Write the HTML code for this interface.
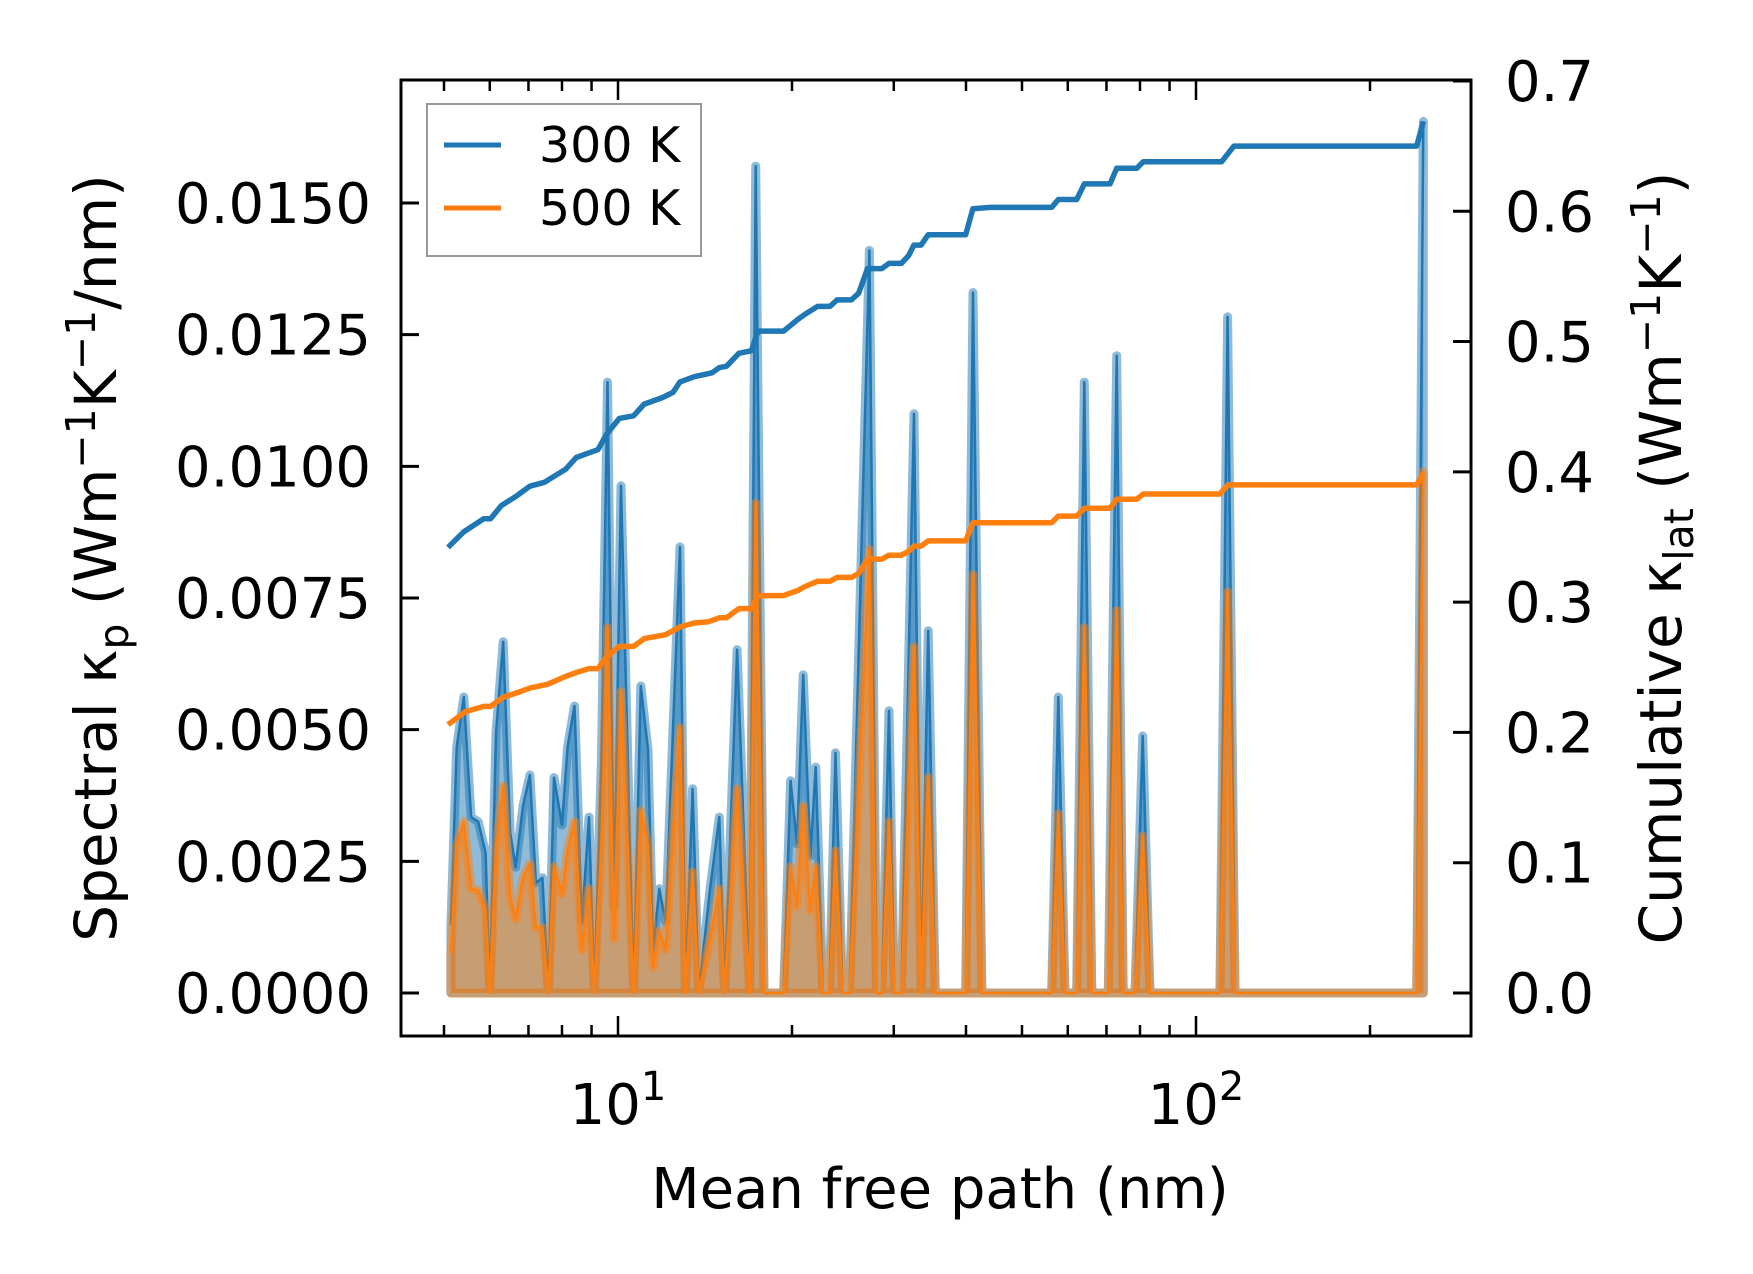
<!DOCTYPE html>
<html><head><meta charset="utf-8">
<style>
html,body{margin:0;padding:0;background:#fff;}
svg{display:block;font-family:"DejaVu Sans","Liberation Sans",sans-serif;}
</style></head>
<body>
<svg id="chart" width="1753" height="1274" viewBox="0 0 1753 1274" xmlns="http://www.w3.org/2000/svg">
<rect x="0" y="0" width="1753" height="1274" fill="#fff"/>
<g id="plot"></g>
<g id="axes"></g>
<g id="legend">
  <rect x="427" y="104" width="274" height="152" fill="#fff" stroke="#999" stroke-width="2"/>
  <g>
    <line x1="444" y1="145" x2="501" y2="145" stroke="#1f77b4" stroke-width="5"/>
    <text x="539" y="162" font-size="49">300 K</text>
  </g>
  <g>
    <line x1="444" y1="208" x2="501" y2="208" stroke="#ff7f0e" stroke-width="5"/>
    <text x="539" y="225" font-size="49">500 K</text>
  </g>
</g>
<text x="940" y="1208" font-size="56" text-anchor="middle">Mean free path (nm)</text>
<text transform="translate(116,558) rotate(-90)" font-size="58" text-anchor="middle">Spectral κ<tspan font-size="41" dy="12">p</tspan><tspan dy="-12"> (Wm</tspan><tspan font-size="41" dy="-21">−1</tspan><tspan dy="21">K</tspan><tspan font-size="41" dy="-21">−1</tspan><tspan dy="21">/nm)</tspan></text>
<text transform="translate(1681,558) rotate(-90)" font-size="58" text-anchor="middle">Cumulative κ<tspan font-size="41" dy="12">lat</tspan><tspan dy="-12"> (Wm</tspan><tspan font-size="41" dy="-21">−1</tspan><tspan dy="21">K</tspan><tspan font-size="41" dy="-21">−1</tspan><tspan dy="21">)</tspan></text>
</svg>
<script>
// ---- data ----
const mfp = [5.14,5.26,5.41,5.57,5.73,5.90,6.00,6.15,6.33,6.51,6.65,6.85,7.04,7.21,7.40,7.58,7.75,8.00,8.18,8.41,8.66,8.91,9.10,9.36,9.59,9.84,10.12,10.64,10.95,11.27,11.50,11.79,12.09,12.80,13.08,13.46,13.79,14.43,14.97,15.29,16.07,16.90,17.31,17.89,19.34,19.89,20.40,20.91,21.52,21.98,22.62,23.21,23.78,24.46,25.16,27.22,28.00,28.61,29.44,30.06,30.93,32.52,33.45,34.41,35.40,39.96,41.14,42.61,56.27,57.78,59.34,62.17,64.09,66.02,70.51,72.90,74.84,78.42,80.87,83.25,110.0,113.4,116.8,240.9,247.3];
const spec300 = [0.00129,0.00467,0.00562,0.00334,0.00325,0.00266,0,0.00494,0.00667,0.00304,0.00239,0.00355,0.00414,0.00209,0.00219,0,0.00409,0.00319,0.00467,0.00545,0.00135,0.00334,0,0.0044,0.0116,0.00165,0.00963,0,0.00583,0.00462,0.00082,0.00198,0.00135,0.00847,0,0.00388,0,0.00198,0.00334,0,0.00652,0,0.0157,0,0,0.00403,0.00283,0.00604,0.0026,0.00429,0,0,0.00456,0,0,0.0141,0,0,0.00536,0,0,0.0110,0,0.00688,0,0,0.0133,0,0,0.00562,0,0,0.0116,0,0,0.0121,0,0,0.00488,0,0,0.01284,0,0,0.01655];
const spec500 = [0.00076,0.0028,0.00325,0.00198,0.00195,0.00156,0,0.0027,0.00393,0.00182,0.0014,0.00219,0.00245,0.00124,0.00124,0,0.0024,0.00188,0.0027,0.00325,0.00082,0.00198,0,0.0028,0.00694,0.00103,0.00572,0,0.00346,0.0028,0.00049,0.00118,0.00082,0.00504,0,0.0023,0,0.00103,0.00198,0,0.00388,0,0.0093,0,0,0.0024,0.00165,0.00355,0.00156,0.0024,0,0,0.0027,0,0,0.00842,0,0,0.00325,0,0,0.00657,0,0.00409,0,0,0.00794,0,0,0.0034,0,0,0.00694,0,0,0.00726,0,0,0.00298,0,0,0.00762,0,0,0.0099];
const cumX300 = [5.08,5.41,5.86,6.02,6.28,6.65,7.04,7.46,8.12,8.47,8.84,9.23,9.56,10.05,10.64,11.10,11.93,12.45,12.80,13.55,14.55,14.97,15.40,16.19,17.02,17.46,19.34,20.48,21.07,22.14,23.27,23.94,25.34,26.08,27.02,28.61,29.42,30.93,31.83,32.51,33.45,34.41,39.96,41.11,44.02,56.27,57.78,62.17,64.09,70.98,72.90,78.96,81.06,110.8,116.3,240.9,247.3];
const cum300 = [0.342,0.354,0.364,0.364,0.374,0.381,0.389,0.392,0.402,0.411,0.414,0.417,0.429,0.441,0.443,0.452,0.457,0.461,0.469,0.473,0.476,0.480,0.481,0.491,0.493,0.508,0.508,0.517,0.521,0.527,0.527,0.532,0.532,0.537,0.556,0.556,0.560,0.560,0.566,0.574,0.574,0.582,0.582,0.602,0.603,0.603,0.609,0.609,0.621,0.621,0.633,0.633,0.638,0.638,0.650,0.650,0.669];
const cumX500 = [5.08,5.45,5.86,6.02,6.33,6.65,7.04,7.56,8.12,8.47,8.91,9.23,9.56,10.05,10.64,11.10,12.09,12.80,13.55,14.35,14.97,15.40,16.19,17.02,17.46,19.34,20.48,21.07,22.14,23.27,23.94,25.34,26.08,27.02,28.61,29.42,30.93,31.83,32.51,33.45,34.41,39.96,41.11,44.02,56.27,57.78,62.17,64.09,70.98,72.90,78.96,81.06,110.0,113.6,240.9,247.3];
const cum500 = [0.206,0.216,0.220,0.220,0.227,0.230,0.234,0.237,0.243,0.246,0.249,0.249,0.258,0.266,0.266,0.272,0.275,0.281,0.284,0.285,0.288,0.288,0.295,0.295,0.305,0.305,0.309,0.312,0.316,0.316,0.319,0.319,0.322,0.333,0.333,0.336,0.336,0.339,0.343,0.343,0.347,0.347,0.361,0.361,0.361,0.366,0.366,0.372,0.372,0.379,0.379,0.383,0.383,0.390,0.390,0.399];
const leftTicks = [0,0.0025,0.005,0.0075,0.01,0.0125,0.015];
const leftTickLabels = ["0.0000","0.0025","0.0050","0.0075","0.0100","0.0125","0.0150"];
const rightTicks = [0,0.1,0.2,0.3,0.4,0.5,0.6,0.7];
const rightTickLabels = ["0.0","0.1","0.2","0.3","0.4","0.5","0.6","0.7"];
const xMajor = [10,100];
const xMajorExp = ["1","2"];

// ---- axes geometry ----
const L=401,R=1471,T=80,B=1036;
function sx(v){return 618+578*(Math.log10(v)-1);}
function syL(v){return 993-v*52667;}
function syR(v){return 993-v*1302.9;}
const NS="http://www.w3.org/2000/svg";
function mk(tag,attrs,parent){const e=document.createElementNS(NS,tag);for(const k in attrs)e.setAttribute(k,attrs[k]);parent.appendChild(e);return e;}
const plot=document.getElementById('plot');
const axes=document.getElementById('axes');

function specSeries(vals,color,name){
  const pts=mfp.map((x,i)=>sx(x).toFixed(1)+','+syL(vals[i]).toFixed(1));
  const area='M'+sx(mfp[0]).toFixed(1)+','+syL(0)+' L'+pts.join(' L')+' L'+sx(mfp[mfp.length-1]).toFixed(1)+','+syL(0)+' Z';
  const f=mk('path',{d:area,fill:color,'fill-opacity':0.5,stroke:'none'},plot);
  
  
  const thick=mk('path',{d:area,fill:'none',stroke:color,'stroke-opacity':0.5,'stroke-width':9,'stroke-linejoin':'round','stroke-linecap':'round'},plot);
  
  
  const line=mk('polyline',{points:pts.join(' '),fill:'none',stroke:color,'stroke-width':2.5,'stroke-linejoin':'round'},plot);
  
  
}
specSeries(spec300,'#1f77b4','spectral-300k');
specSeries(spec500,'#ff7f0e','spectral-500k');

function cumSeries(xs,vals,color,name){
  const pts=xs.map((x,i)=>sx(x).toFixed(1)+','+syR(vals[i]).toFixed(1)).join(' ');
  const l=mk('polyline',{points:pts,fill:'none',stroke:color,'stroke-width':5.5,'stroke-linejoin':'round'},plot);
  
  
}
cumSeries(cumX300,cum300,'#1f77b4','cumulative-300k-line');
cumSeries(cumX500,cum500,'#ff7f0e','cumulative-500k-line');

// frame
const fr=mk('rect',{x:L,y:T,width:R-L,height:B-T,fill:'none',stroke:'#000','stroke-width':3},axes);



// left ticks
leftTicks.forEach((v,i)=>{
  const y=syL(v);
  mk('line',{x1:L,y1:y,x2:L+18,y2:y,stroke:'#000','stroke-width':3},axes);
  const t=mk('text',{x:371,y:y+20,'font-size':56,'text-anchor':'end'},axes);
  t.textContent=leftTickLabels[i];
  
  
});
// right ticks
rightTicks.forEach((v,i)=>{
  const y=syR(v);
  mk('line',{x1:R-18,y1:y,x2:R,y2:y,stroke:'#000','stroke-width':3},axes);
  const t=mk('text',{x:1505,y:y+20,'font-size':56,'text-anchor':'start'},axes);
  t.textContent=rightTickLabels[i];
  
  
});
// x ticks
for(let d=1;d<=100;d*=10){
  for(let m=1;m<10;m++){
    const v=d*m;const x=sx(v);
    if(x<=L+1||x>=R-1)continue;
    const len=(m===1)?20:11;
    mk('line',{x1:x,y1:B,x2:x,y2:B-len,stroke:'#000','stroke-width':2.5},axes);
    mk('line',{x1:x,y1:T,x2:x,y2:T+len,stroke:'#000','stroke-width':2.5},axes);
  }
}
xMajor.forEach((v,i)=>{
  const x=sx(v);
  const t=mk('text',{x:x,y:1124,'font-size':56,'text-anchor':'middle'},axes);
  
  
  const a=document.createElementNS(NS,'tspan');a.textContent='10';t.appendChild(a);
  const b=document.createElementNS(NS,'tspan');b.setAttribute('font-size','40');b.setAttribute('dy','-24');b.textContent=xMajorExp[i];t.appendChild(b);
});
</script>
</body></html>
